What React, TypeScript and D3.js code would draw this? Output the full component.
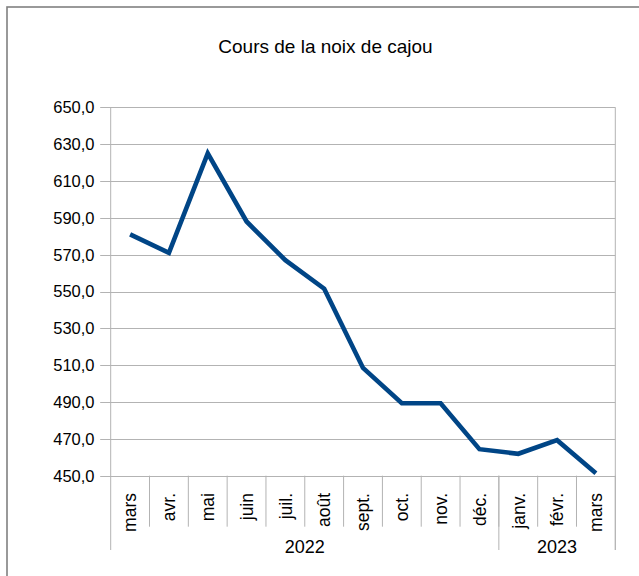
import React from 'react';
import * as d3 from 'd3';

const title = 'Cours de la noix de cajou';
const months = ['mars', 'avr.', 'mai', 'juin', 'juil.', 'août', 'sept.', 'oct.', 'nov.', 'déc.', 'janv.', 'févr.', 'mars'];
const values = [581, 571, 625, 588, 567, 551.5, 508.5, 489.3, 489.3, 464.4, 461.9, 469.3, 451.3];
const yearLabels = ['2022', '2023'];
const yearCounts = [10, 3];
const yTicks = [450, 470, 490, 510, 530, 550, 570, 590, 610, 630, 650];

const W = 639;
const H = 576;
const left = 110.7;
const right = 615.3;
const top = 107.3;
const bottom = 475.7;
const font = '"Liberation Sans", Arial, sans-serif';
const grid = '#b3b3b3';

export default function App() {
  const idx = d3.range(months.length);
  const x = d3.scaleBand<number>().domain(idx).range([left, right]).paddingInner(0).paddingOuter(0);
  const y = d3.scaleLinear().domain([450, 650]).range([bottom, top]);
  const fmt = (v: number) => d3.format('.1f')(v).replace('.', ',');
  const cx = (i: number) => (x(i) as number) + x.bandwidth() / 2;
  const line = d3
    .line<number>()
    .x((_, i) => cx(i))
    .y((d) => y(d));

  const yearBounds: { label: string; x0: number; x1: number }[] = [];
  let start = 0;
  yearLabels.forEach((lab, k) => {
    const end = start + yearCounts[k];
    yearBounds.push({ label: lab, x0: x(start) as number, x1: end >= months.length ? right : (x(end) as number) });
    start = end;
  });

  return (
    <svg
      width={W}
      height={H}
      style={{ position: 'absolute', left: 0, top: 0, background: '#fff' }}
      fontFamily={font}
    >
      <rect x={0} y={0} width={W} height={H} fill="#fff" />
      <rect x={7} y={7} width={W + 20} height={H + 20} fill="none" stroke="#808080" strokeWidth={1.6} />
      <text x={325.5} y={53} textAnchor="middle" fontSize={19} fill="#000">
        {title}
      </text>

      {yTicks.map((t) => (
        <g key={t}>
          <line x1={left - 10.5} x2={right} y1={Math.round(y(t)) + 0.5} y2={Math.round(y(t)) + 0.5} stroke={grid} strokeWidth={1} />
          <text x={94.5} y={y(t)} dy="0.36em" textAnchor="end" fontSize={16.5} fill="#000">
            {fmt(t)}
          </text>
        </g>
      ))}

      <line x1={left} x2={left} y1={top} y2={550} stroke={grid} strokeWidth={1} />
      <line x1={right} x2={right} y1={top} y2={550} stroke={grid} strokeWidth={1} />

      {idx.slice(1).map((i) => (
        <line key={i} x1={x(i) as number} x2={x(i) as number} y1={bottom} y2={526.7} stroke={grid} strokeWidth={1} />
      ))}
      {yearBounds.map((b) => (
        <line key={b.label} x1={b.x1} x2={b.x1} y1={bottom} y2={550} stroke={grid} strokeWidth={1} />
      ))}

      {months.map((m, i) => (
        <text
          key={i}
          transform={`translate(${cx(i)},493) rotate(-90)`}
          dy="0.36em"
          textAnchor="end"
          fontSize={17.5}
          fill="#000"
        >
          {m}
        </text>
      ))}

      {yearBounds.map((b) => (
        <text key={b.label} x={(b.x0 + b.x1) / 2} y={553} textAnchor="middle" fontSize={18} fill="#000">
          {b.label}
        </text>
      ))}

      <path d={line(values) || ''} fill="none" stroke="#004586" strokeWidth={4.6} strokeLinejoin="miter" />
    </svg>
  );
}
